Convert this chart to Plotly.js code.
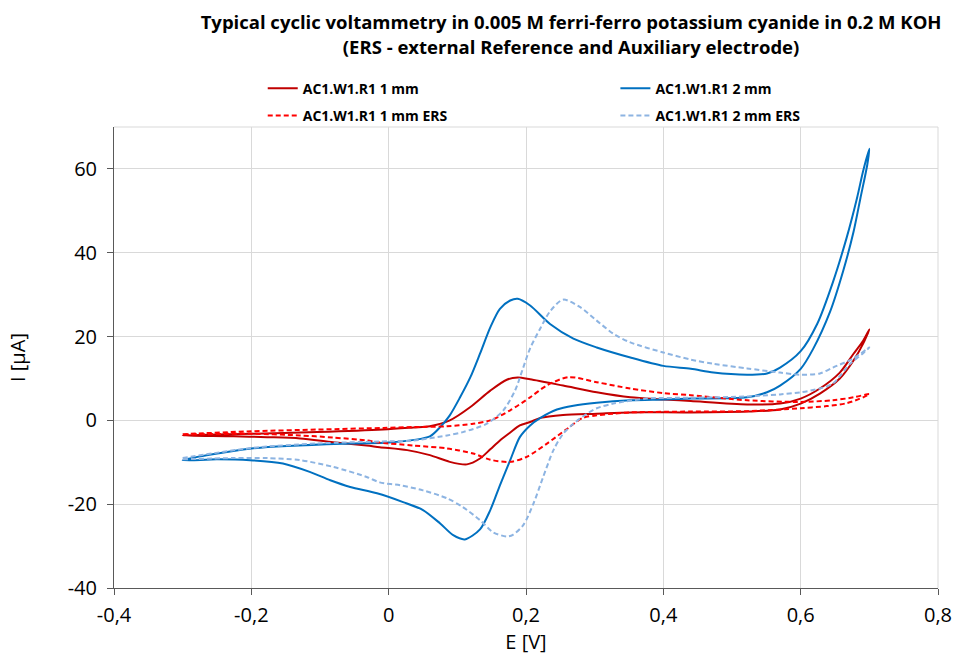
<!DOCTYPE html>
<html>
<head>
<meta charset="utf-8">
<script src="https://cdn.plot.ly/plotly-3.0.1.min.js"></script>
<style>html,body{margin:0;padding:0;background:#fff;}#chart{width:955px;height:655px;}</style>
</head>
<body>
<div id="chart"></div>
<script>
// ---- Data ----
var seriesNames = ["AC1.W1.R1 1 mm", "AC1.W1.R1 1 mm ERS", "AC1.W1.R1 2 mm", "AC1.W1.R1 2 mm ERS"];

// AC1.W1.R1 1 mm (forward then reverse scan)
var e1mm = [-0.3, -0.2, -0.104, -0.008, 0.036, 0.06, 0.089, 0.119, 0.148, 0.172, 0.188, 0.206, 0.254, 0.303, 0.352, 0.4, 0.44, 0.522, 0.57, 0.6, 0.628, 0.657, 0.677, 0.691, 0.7,
            0.691, 0.677, 0.657, 0.628, 0.6, 0.57, 0.522, 0.44, 0.352, 0.303, 0.254, 0.221, 0.206, 0.191, 0.177, 0.162, 0.148, 0.133, 0.114, 0.089, 0.06, 0.027, -0.013, -0.032, -0.081, -0.129, -0.177, -0.226, -0.3];
var i1mm = [-3.6, -3.2, -2.8, -2.2, -1.7, -1.4, 0.0, 3.2, 7.1, 9.7, 10.2, 9.8, 8.3, 6.7, 5.5, 5.0, 4.6, 3.8, 4.0, 5.2, 7.6, 11.4, 15.9, 19.0, 21.7,
            18.3, 14.3, 10.0, 6.4, 4.0, 2.6, 2.1, 1.9, 1.9, 1.6, 1.3, 0.6, -0.4, -1.2, -2.9, -4.8, -6.9, -9.1, -10.5, -9.9, -8.3, -7.1, -6.4, -6.0, -5.2, -4.3, -4.0, -3.8, -3.6];

// AC1.W1.R1 1 mm ERS
var e1mmErs = [-0.3, -0.2, -0.104, -0.008, 0.036, 0.085, 0.123, 0.148, 0.177, 0.206, 0.23, 0.262, 0.303, 0.352, 0.4, 0.44, 0.522, 0.6, 0.647, 0.677, 0.7,
               0.691, 0.667, 0.638, 0.6, 0.522, 0.44, 0.352, 0.327, 0.303, 0.283, 0.26, 0.23, 0.201, 0.177, 0.148, 0.123, 0.085, 0.036, -0.013, -0.032, -0.081, -0.129, -0.2, -0.3];
var i1mmErs = [-3.3, -2.6, -2.2, -1.8, -1.6, -1.4, -0.8, 0.0, 2.4, 5.5, 8.3, 10.3, 9.1, 7.6, 6.5, 6.0, 4.8, 4.4, 4.8, 5.5, 6.3,
               5.5, 4.1, 3.4, 2.9, 2.2, 2.1, 1.9, 1.6, 1.2, 0.6, -2.0, -5.6, -8.7, -9.9, -9.4, -7.9, -6.7, -6.0, -5.3, -4.8, -4.1, -3.6, -3.2, -3.4];

// AC1.W1.R1 2 mm
var e2mm = [-0.3, -0.2, -0.055, 0.0, 0.06, 0.075, 0.089, 0.104, 0.119, 0.133, 0.148, 0.162, 0.177, 0.188, 0.206, 0.235, 0.269, 0.303, 0.352, 0.4, 0.44, 0.473, 0.522, 0.551, 0.57, 0.6, 0.624, 0.647, 0.667, 0.682, 0.691, 0.7,
            0.697, 0.687, 0.677, 0.662, 0.643, 0.618, 0.6, 0.57, 0.551, 0.522, 0.44, 0.4, 0.352, 0.303, 0.269, 0.245, 0.221, 0.206, 0.191, 0.177, 0.162, 0.148, 0.133, 0.111, 0.094, 0.075, 0.05, 0.021, -0.017, -0.056, -0.085, -0.115, -0.154, -0.202, -0.25, -0.3];
var i2mm = [-9.5, -6.7, -5.5, -5.3, -3.8, -1.6, 1.2, 5.5, 10.3, 15.9, 22.2, 26.6, 28.6, 29.0, 27.4, 23.0, 19.5, 17.4, 15.0, 13.0, 12.3, 11.4, 10.9, 11.2, 12.6, 16.5, 23.0, 33.0, 43.6, 53.0, 59.5, 64.8,
            61.0, 53.0, 45.0, 35.7, 26.0, 17.0, 12.3, 8.3, 6.7, 5.5, 5.2, 5.0, 4.8, 4.2, 3.5, 2.6, 0.6, -1.2, -4.0, -9.5, -15.5, -21.4, -26.0, -28.4, -27.4, -24.6, -21.4, -19.5, -17.4, -15.9, -14.3, -12.3, -10.3, -9.5, -9.3, -9.5];

// AC1.W1.R1 2 mm ERS
var e2mmErs = [-0.3, -0.2, -0.104, 0.0, 0.036, 0.085, 0.108, 0.143, 0.167, 0.184, 0.196, 0.206, 0.221, 0.235, 0.254, 0.279, 0.303, 0.327, 0.352, 0.4, 0.44, 0.473, 0.522, 0.57, 0.6, 0.628, 0.647, 0.677, 0.7,
               0.691, 0.672, 0.647, 0.628, 0.6, 0.57, 0.522, 0.44, 0.376, 0.327, 0.303, 0.289, 0.269, 0.254, 0.24, 0.225, 0.211, 0.196, 0.181, 0.172, 0.152, 0.133, 0.108, 0.085, 0.05, 0.017, -0.013, -0.032, -0.081, -0.129, -0.177, -0.226, -0.3];
var i2mmErs = [-9.0, -6.6, -5.5, -5.0, -4.8, -3.6, -2.8, -0.8, 2.4, 7.1, 12.6, 17.2, 22.0, 26.0, 28.8, 27.0, 23.8, 20.7, 18.6, 16.2, 14.5, 13.5, 12.4, 11.4, 10.9, 11.2, 12.6, 14.8, 17.4,
               16.0, 13.5, 8.8, 7.6, 6.7, 6.2, 5.7, 5.4, 5.2, 4.0, 2.9, 1.6, -0.8, -3.2, -7.1, -13.5, -19.8, -25.0, -27.3, -27.7, -26.7, -23.8, -20.7, -18.6, -16.7, -15.5, -14.8, -13.5, -11.1, -9.5, -9.0, -9.0, -9.3];

var xTickVals = [-0.4, -0.2, 0, 0.2, 0.4, 0.6, 0.8];
var xTickText = ["-0,4", "-0,2", "0", "0,2", "0,4", "0,6", "0,8"];
var yTickVals = [-40, -20, 0, 20, 40, 60];
var yTickText = ["-40", "-20", "0", "20", "40", "60"];

// ---- Traces ----
function tr(x, y, name, color, dash, legend, group) {
  return {
    x: x, y: y, name: name, type: 'scatter', mode: 'lines',
    line: {color: color, width: 2, dash: dash, shape: 'spline', smoothing: 0.8},
    legend: legend, legendgroup: group, hoverinfo: 'skip'
  };
}
var data = [
  tr(e1mm, i1mm, seriesNames[0], '#c00000', 'solid', 'legend', 'a'),
  tr(e2mm, i2mm, seriesNames[2], '#0070c0', 'solid', 'legend2', 'c'),
  tr(e1mmErs, i1mmErs, seriesNames[1], '#ff0000', '5px,3px', 'legend', 'b'),
  tr(e2mmErs, i2mmErs, seriesNames[3], '#8db4e2', '5px,3px', 'legend2', 'd')
];

var fontFam = '"Open Sans", "DejaVu Sans", sans-serif';
var legendCommon = {
  orientation: 'v', yanchor: 'top', xanchor: 'left', y: 1.118,
  font: {family: fontFam, size: 14, color: '#000', weight: 700},
  bgcolor: 'rgba(0,0,0,0)', borderwidth: 0,
  traceorder: 'grouped', tracegroupgap: 6
};
var legend1 = Object.assign({}, legendCommon, {x: 0.1805});
var legend2 = Object.assign({}, legendCommon, {x: 0.6085});

var layout = {
  width: 955, height: 655,
  margin: {l: 114, r: 17, t: 127, b: 67},
  paper_bgcolor: '#ffffff', plot_bgcolor: '#ffffff',
  separators: ', ',
  showlegend: true,
  title: {
    text: '<b>Typical cyclic voltammetry in 0.005 M ferri-ferro potassium cyanide in 0.2 M KOH<br>(ERS - external Reference and Auxiliary electrode)</b>',
    font: {family: fontFam, size: 18.5, color: '#000'},
    xref: 'container', x: 0.598, xanchor: 'center',
    yref: 'container', y: 0.955, yanchor: 'top'
  },
  legend: legend1,
  legend2: legend2,
  xaxis: {
    range: [-0.4, 0.8], tickvals: xTickVals, ticktext: xTickText,
    showgrid: true, gridcolor: '#d9d9d9', gridwidth: 1,
    zeroline: false, showline: true, linecolor: '#595959', linewidth: 1,
    ticks: 'outside', ticklen: 6, tickcolor: '#595959', ticklabelstandoff: 3,
    tickfont: {family: fontFam, size: 20, color: '#000'},
    title: {text: 'E [V]', font: {family: fontFam, size: 20, color: '#000'}, standoff: 6},
    automargin: false, fixedrange: true
  },
  yaxis: {
    range: [-40, 70], tickvals: yTickVals, ticktext: yTickText,
    showgrid: true, gridcolor: '#d9d9d9', gridwidth: 1,
    zeroline: false, showline: true, linecolor: '#595959', linewidth: 1,
    ticks: 'outside', ticklen: 6, tickcolor: '#595959', ticklabelstandoff: 6,
    tickfont: {family: fontFam, size: 20, color: '#000'},
    title: {text: 'I [µA]', font: {family: fontFam, size: 20, color: '#000'}, standoff: 36},
    automargin: false, fixedrange: true
  },
  shapes: [
    {type: 'line', xref: 'paper', yref: 'paper', x0: 0, x1: 1, y0: 1, y1: 1, line: {color: '#d9d9d9', width: 1}, layer: 'below'},
    {type: 'line', xref: 'paper', yref: 'paper', x0: 1, x1: 1, y0: 0, y1: 1, line: {color: '#d9d9d9', width: 1}, layer: 'below'}
  ]
};

Plotly.newPlot('chart', data, layout, {displayModeBar: false, staticPlot: true});
</script>
</body>
</html>
